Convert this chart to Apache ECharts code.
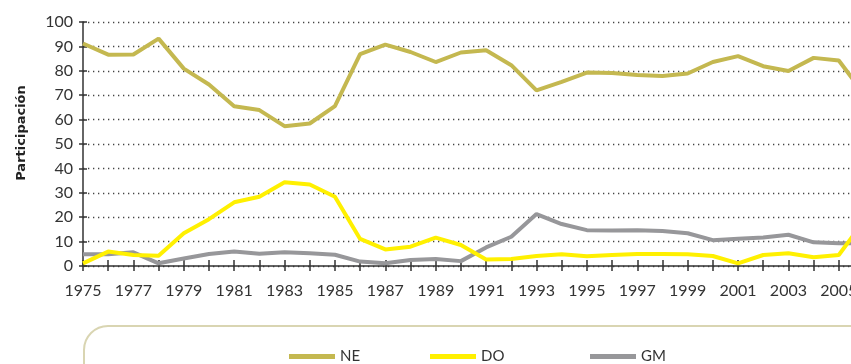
<!DOCTYPE html>
<html>
<head>
<meta charset="utf-8">
<script src="https://cdn.jsdelivr.net/npm/echarts@6/dist/echarts.min.js"></script>
<style>
  html, body { margin: 0; padding: 0; overflow: hidden; background: #fff; }
  #chart { width: 900px; height: 364px; }
</style>
</head>
<body>
<div id="chart"></div>
<script>
// Years on the horizontal axis
const years = ['1975','1976','1977','1978','1979','1980','1981','1982','1983','1984',
  '1985','1986','1987','1988','1989','1990','1991','1992','1993','1994','1995','1996',
  '1997','1998','1999','2000','2001','2002','2003','2004','2005','2006'];

// Participation (%) by group
const ne = [91.2, 86.6, 86.7, 93.2, 80.9, 74.4, 65.5, 63.9, 57.3, 58.4,
  65.5, 86.8, 90.7, 87.7, 83.6, 87.5, 88.4, 82.3, 72.0, 75.5, 79.3, 79.1,
  78.3, 77.9, 78.9, 83.6, 86.0, 81.9, 79.9, 85.3, 84.2, 70.5];
const dO = [1.1, 5.9, 4.5, 4.2, 13.4, 19.2, 26.1, 28.4, 34.3, 33.4,
  28.4, 11.1, 6.8, 7.9, 11.6, 8.6, 2.7, 2.9, 4.1, 4.8, 4.0, 4.5,
  4.9, 4.9, 4.8, 4.1, 1.1, 4.5, 5.2, 3.6, 4.5, 18.5];
const gm = [4.8, 4.8, 5.6, 1.1, 3.1, 4.9, 5.9, 5.0, 5.6, 5.2,
  4.6, 1.8, 1.1, 2.5, 2.9, 2.0, 7.6, 12.0, 21.3, 17.2, 14.7, 14.5,
  14.7, 14.3, 13.4, 10.6, 11.2, 11.7, 12.8, 9.7, 9.3, 9.3];

const seriesNames = ['NE', 'DO', 'GM'];
const colors = ['#c4b850', '#fff000', '#97979a'];

const FONT = 'Lato, "Noto Sans", sans-serif';
const axisColor = '#333';

const chart = echarts.init(document.getElementById('chart'), null, { renderer: 'canvas' });

function legendFor(name, left) {
  return {
    data: [name],
    left: left,
    top: 344,
    icon: 'rect',
    itemWidth: 46,
    itemHeight: 5,
    itemGap: 0,
    textStyle: { fontFamily: FONT, fontSize: 15, color: '#333' }
  };
}

chart.setOption({
  animation: false,
  color: colors,
  grid: { left: 83, top: 22, right: 36, bottom: 98, containLabel: false },
  graphic: [
    {
      type: 'rect',
      shape: { x: 84, y: 326, width: 860, height: 80, r: 24 },
      style: { fill: 'none', stroke: '#d9d5b2', lineWidth: 2 },
      z: 0
    },
    {
      type: 'text',
      x: 22, y: 133,
      rotation: Math.PI / 2,
      style: {
        text: 'Participación',
        fontFamily: '"DejaVu Sans", sans-serif',
        fontWeight: 'bold',
        fontSize: 13,
        fill: '#222',
        align: 'center',
        verticalAlign: 'middle'
      }
    }
  ],
  legend: [legendFor('NE', 284), legendFor('DO', 425), legendFor('GM', 585)],
  xAxis: [
    {
      type: 'category',
      data: years,
      boundaryGap: false,
      axisLine: { lineStyle: { color: axisColor, width: 1.5 } },
      axisTick: { show: true, interval: 0, length: 5, lineStyle: { color: axisColor, width: 1.5 } },
      axisLabel: { interval: 1, margin: 17, fontFamily: FONT, fontSize: 16, color: '#333' },
      splitLine: { show: false }
    },
    {
      type: 'category',
      data: years,
      position: 'bottom',
      boundaryGap: false,
      axisLine: { show: false },
      axisTick: { show: true, inside: true, interval: 0, length: 6, lineStyle: { color: axisColor, width: 1.5 } },
      axisLabel: { show: false },
      splitLine: { show: false }
    }
  ],
  yAxis: [
    {
      type: 'value',
      min: 0, max: 100, interval: 10,
      axisLine: { show: true, lineStyle: { color: axisColor, width: 1.5 } },
      axisTick: { show: true, length: 4, lineStyle: { color: axisColor, width: 1.5 } },
      axisLabel: { margin: 10, fontFamily: FONT, fontSize: 16, color: '#333' },
      splitLine: { show: true, lineStyle: { color: '#444', width: 1.3, type: [1.3, 3.7] } }
    },
    {
      type: 'value',
      position: 'left',
      min: 0, max: 100, interval: 10,
      axisLine: { show: false },
      axisTick: { show: true, inside: true, length: 4, lineStyle: { color: axisColor, width: 1.5 } },
      axisLabel: { show: false },
      splitLine: { show: false }
    }
  ],
  series: [
    { name: seriesNames[0], type: 'line', data: ne, showSymbol: false, symbol: 'none',
      lineStyle: { width: 4, color: colors[0] }, itemStyle: { color: colors[0] }, z: 2 },
    { name: seriesNames[1], type: 'line', data: dO, showSymbol: false, symbol: 'none',
      lineStyle: { width: 4, color: colors[1] }, itemStyle: { color: colors[1] }, z: 4 },
    { name: seriesNames[2], type: 'line', data: gm, showSymbol: false, symbol: 'none',
      lineStyle: { width: 4, color: colors[2] }, itemStyle: { color: colors[2] }, z: 3 }
  ]
});
</script>
</body>
</html>
